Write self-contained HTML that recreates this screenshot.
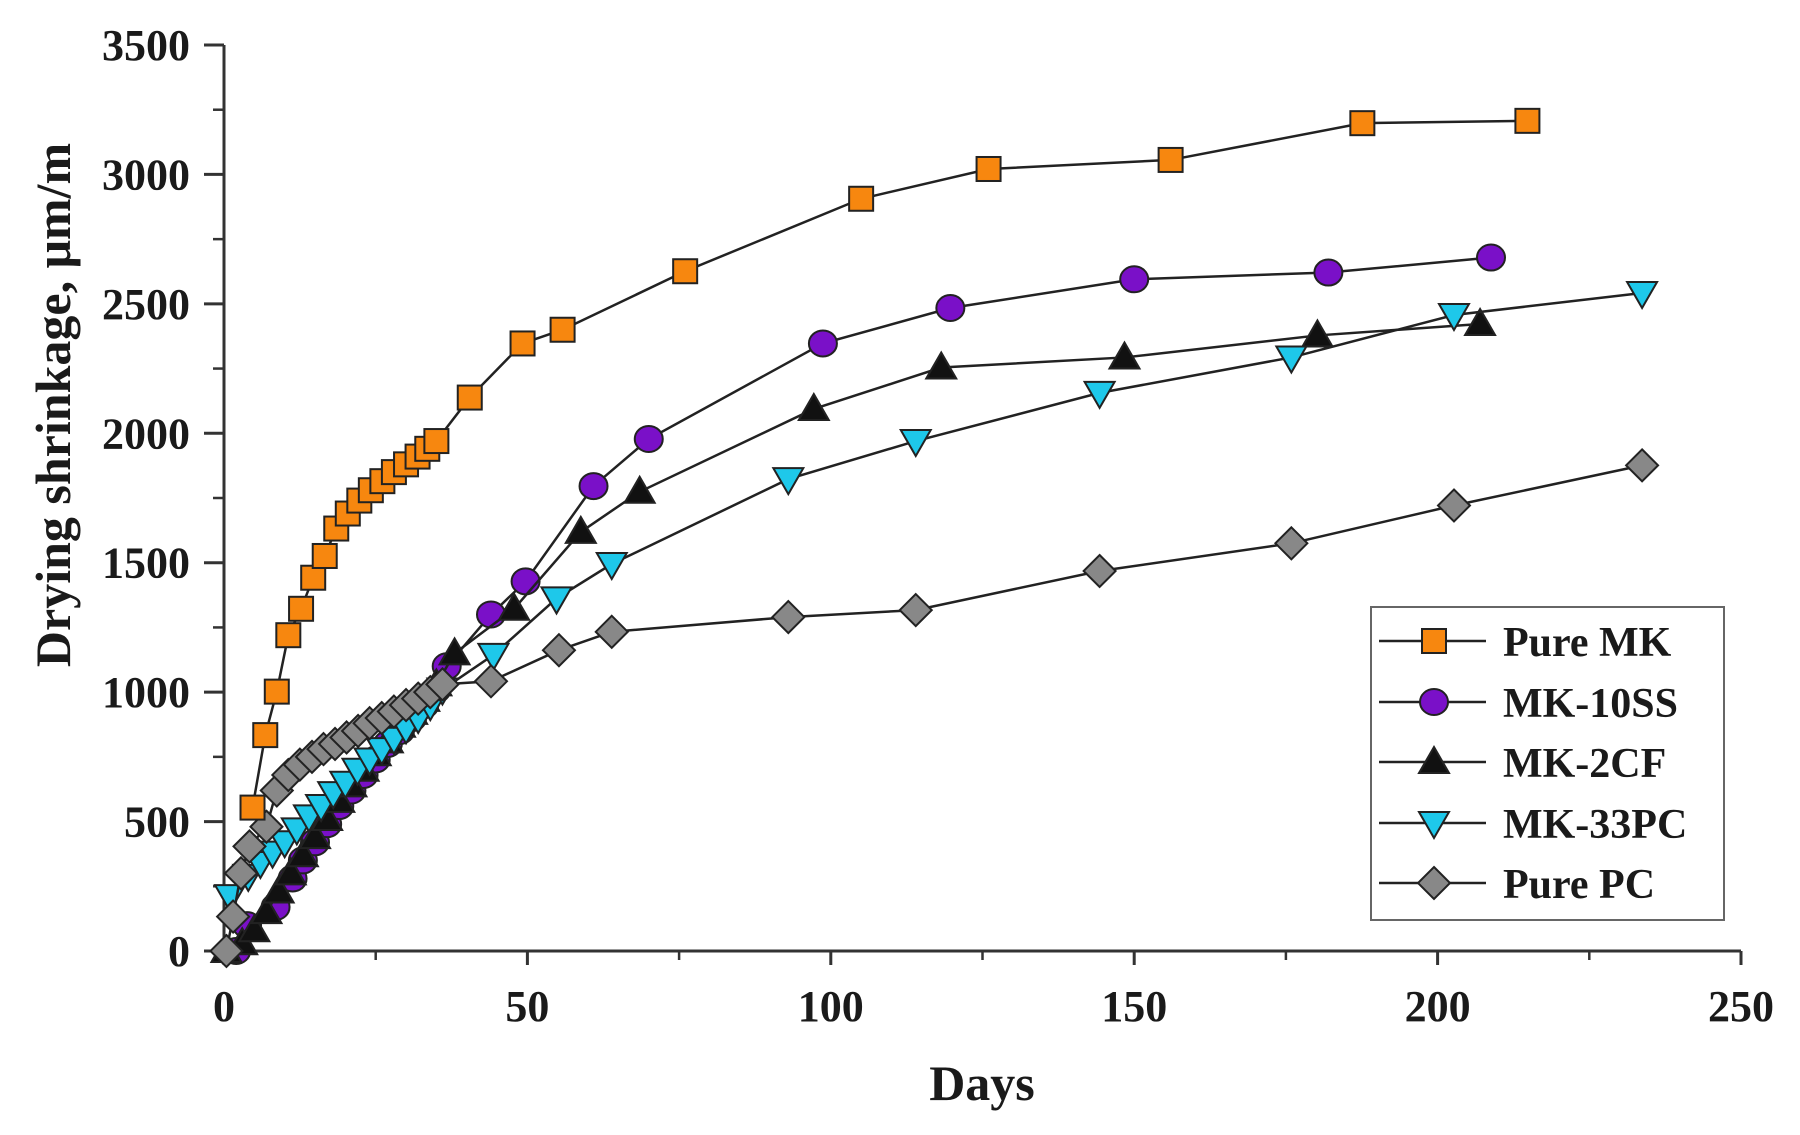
<!DOCTYPE html>
<html><head><meta charset="utf-8"><style>
html,body{margin:0;padding:0;background:#fff;}
svg{display:block;font-family:"Liberation Serif",serif;font-weight:bold;}
</style></head><body>
<svg id="chart" width="1800" height="1135" viewBox="0 0 1800 1135" xmlns="http://www.w3.org/2000/svg">
<text transform="translate(70,405) rotate(-90)" text-anchor="middle" font-size="50" fill="#1a1a1a">Drying shrinkage, μm/m</text>
<text x="982" y="1100" text-anchor="middle" font-size="50" fill="#1a1a1a">Days</text>
<g id="axes"></g>
<g id="series"></g>
<g id="legend"></g>
</svg>
<script>
const xTicks=[0,50,100,150,200,250];
const yTicks=[0,500,1000,1500,2000,2500,3000,3500];
const seriesNames=["Pure MK","MK-10SS","MK-2CF","MK-33PC","Pure PC"];
const pureMKDays=[4.7,6.8,8.7,10.6,12.7,14.7,16.6,18.5,20.4,22.3,24.2,26.1,28,30,31.9,33.5,35,40.5,49.2,55.8,76,105,126,156,187.6,214.8];
const pureMKVals=[554,834,1002,1220,1322,1442,1526,1632,1690,1740,1780,1815,1850,1880,1910,1940,1970,2138,2347,2400,2626,2906,3021,3056,3198,3207];
const mk10Days=[2,3.8,8.5,11.3,13,15,17,19,21,23,25,27,29,31,33,35,36.7,44,49.7,60.9,70,98.7,119.7,150,182,208.8];
const mk10Vals=[0,100,170,280,350,420,490,560,620,680,740,800,850,900,950,1010,1100,1300,1428,1796,1978,2347,2484,2595,2621,2679];
const mk2Days=[0.4,3,5,7,9,11,13,15,17,19,21,23,25,27,29,31,33,35,38,47.8,58.8,68.5,97.2,118.2,148.4,180.2,207];
const mk2Vals=[0,30,80,150,230,300,370,440,510,580,640,700,760,810,870,920,970,1030,1150,1322,1619,1774,2094,2254,2293,2378,2422];
const mk33Days=[1,4,6,8,10,12,14,16,18,20,22,24,26,28,30,32,34,36,44.4,54.8,63.9,93,114,144.3,175.9,202.7,233.7];
const mk33Vals=[212,290,340,380,420,470,520,560,610,650,700,740,780,820,860,900,950,1010,1144,1362,1495,1823,1970,2156,2293,2457,2542];
const pcDays=[0.4,1.5,2.8,4.2,7,8.7,10.6,12.5,14.5,16.4,18.3,20.2,22.1,24,26,28,30,32,34,36,44,55.2,63.9,93,114,144.3,175.9,202.7,233.7];
const pcVals=[0,133,300,404,480,620,680,720,750,780,800,825,850,880,900,925,950,975,1000,1030,1042,1162,1233,1290,1317,1468,1575,1721,1876];

const NS="http://www.w3.org/2000/svg";
const X0=224,X1=1741,Y0=951,Y1=45;
function xs(d){return X0+(d/250)*(X1-X0);}
function ys(v){return Y0-(v/3500)*(Y0-Y1);}
function mk(tag,attrs,parent){const e=document.createElementNS(NS,tag);for(const k in attrs)e.setAttribute(k,attrs[k]);parent.appendChild(e);return e;}

const axes=document.getElementById('axes');
let a=mk('line',{x1:X0,y1:Y0,x2:X0,y2:Y1,stroke:'#333','stroke-width':3},axes);


a=mk('line',{x1:X0,y1:Y0,x2:X1,y2:Y0,stroke:'#333','stroke-width':3},axes);


for(let i=0;i<yTicks.length;i++){
  const y=ys(yTicks[i]);
  const t=mk('line',{x1:X0-20,y1:y,x2:X0,y2:y,stroke:'#333','stroke-width':3},axes);
  
  
  if(i<yTicks.length-1){const m=mk('line',{x1:X0-11,y1:ys(yTicks[i]+250),x2:X0,y2:ys(yTicks[i]+250),stroke:'#333','stroke-width':2.5},axes);
  
  }
  const l=mk('text',{x:190,y:y+15,'text-anchor':'end','font-size':44,fill:'#1a1a1a'},axes);
  l.textContent=yTicks[i];
  
  
}
for(let i=0;i<xTicks.length;i++){
  const x=xs(xTicks[i]);
  const t=mk('line',{x1:x,y1:Y0,x2:x,y2:Y0+14,stroke:'#333','stroke-width':3},axes);
  
  
  if(i<xTicks.length-1){const m=mk('line',{x1:xs(xTicks[i]+25),y1:Y0,x2:xs(xTicks[i]+25),y2:Y0+9,stroke:'#333','stroke-width':2.5},axes);
  
  }
  const l=mk('text',{x:x,y:1021,'text-anchor':'middle','font-size':44,fill:'#1a1a1a'},axes);
  l.textContent=xTicks[i];
  
  
}

const styles=[
 {shape:'square',fill:'#f7870f'},
 {shape:'circle',fill:'#7a10c8'},
 {shape:'up',fill:'#111'},
 {shape:'down',fill:'#1ec8ea'},
 {shape:'diamond',fill:'#888'}];
function marker(g,shape,fill,x,y){
  const s={fill:fill,stroke:'#222','stroke-width':2};let e;
  if(shape==='square')e=mk('rect',Object.assign({x:x-12,y:y-12,width:24,height:24},s),g);
  else if(shape==='circle')e=mk('ellipse',Object.assign({cx:x,cy:y,rx:14,ry:13},s),g);
  else if(shape==='up')e=mk('polygon',Object.assign({points:`${x},${y-15} ${x+15},${y+11} ${x-15},${y+11}`},s),g);
  else if(shape==='down')e=mk('polygon',Object.assign({points:`${x-15},${y-11} ${x+15},${y-11} ${x},${y+15}`},s),g);
  else e=mk('polygon',Object.assign({points:`${x},${y-16} ${x+16},${y} ${x},${y+16} ${x-16},${y}`},s),g);
  return e;
}
const allDays=[pureMKDays,mk10Days,mk2Days,mk33Days,pcDays];
const allVals=[pureMKVals,mk10Vals,mk2Vals,mk33Vals,pcVals];
const sg=document.getElementById('series');
const order=[1,2,3,4,0];
order.forEach(si=>{
  const g=mk('g',{},sg);
  
  
  const pts=allDays[si].map((d,i)=>xs(d)+','+ys(allVals[si][i])).join(' ');
  const pl=mk('polyline',{points:pts,fill:'none',stroke:'#222','stroke-width':2.5},g);
  
  
  allDays[si].forEach((d,i)=>{
    const m=marker(g,styles[si].shape,styles[si].fill,xs(d),ys(allVals[si][i]));
    
    
  });
});

const lg=document.getElementById('legend');
const box=mk('rect',{x:1371,y:607,width:353,height:313,fill:'#fff',stroke:'#666','stroke-width':2},lg);


const ly=[641,702,762,823,883];
seriesNames.forEach((n,i)=>{
  const g=mk('g',{},lg);
  
  
  mk('line',{x1:1379,y1:ly[i],x2:1486,y2:ly[i],stroke:'#222','stroke-width':2.5},g);
  marker(g,styles[i].shape,styles[i].fill,1434,ly[i]);
  const t=mk('text',{x:1503,y:ly[i]+15,'font-size':42,fill:'#1a1a1a'},g);
  t.textContent=n;
});
</script>
</body></html>
